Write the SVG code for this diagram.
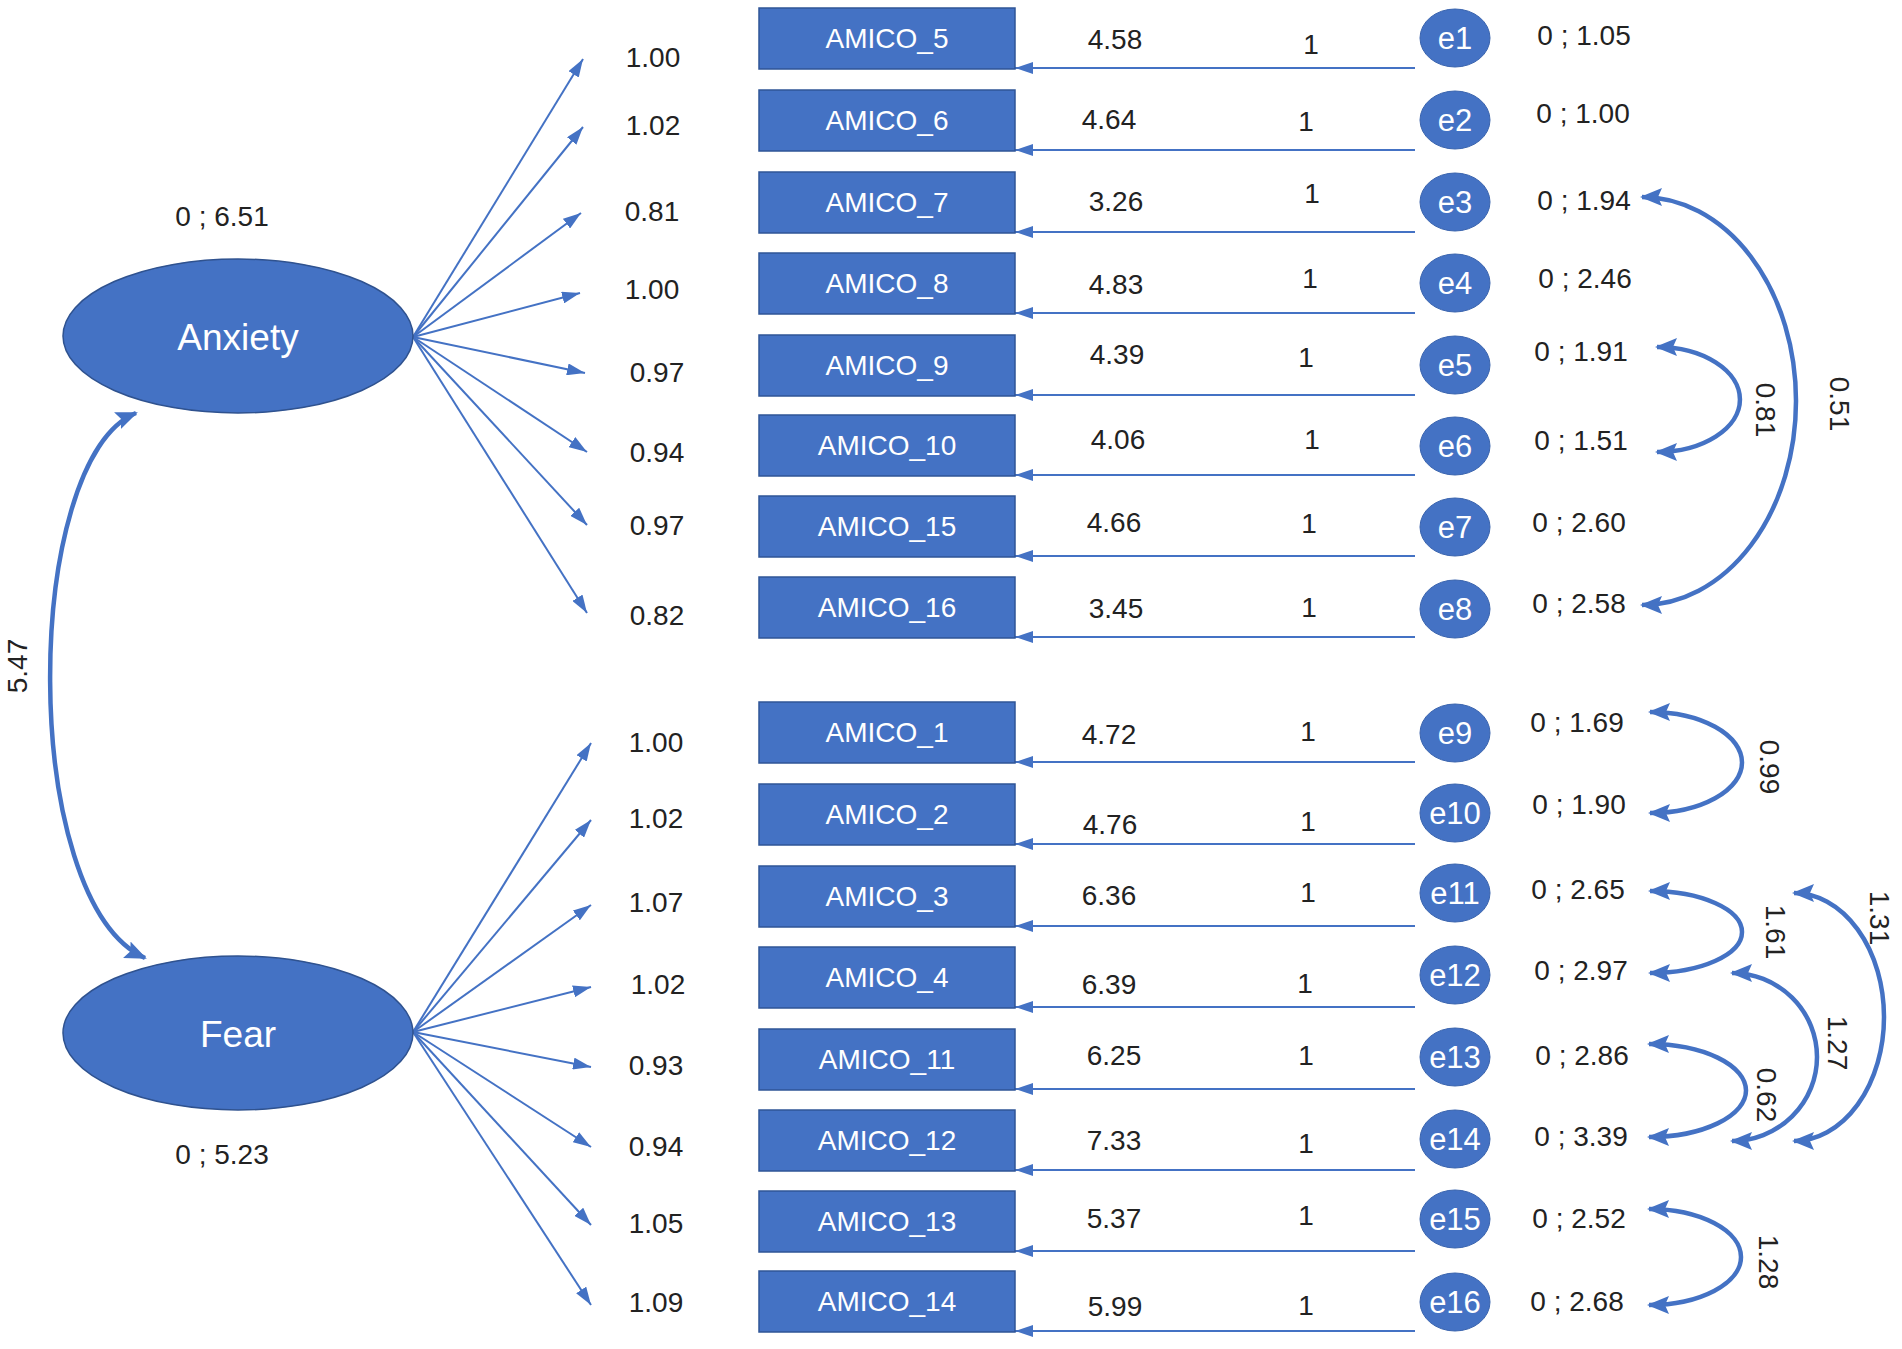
<svg xmlns="http://www.w3.org/2000/svg" width="1902" height="1349" viewBox="0 0 1902 1349">
<style>
text{font-family:"Liberation Sans",Arial,sans-serif;font-size:28px;fill:#222;text-anchor:middle}
.lat{fill:#4472C4;stroke:#2F528F;stroke-width:1.5}
.box{fill:#4472C4;stroke:#2F5597;stroke-width:1.5}
.err{fill:#4472C4;stroke:#3A64AE;stroke-width:1}
.wt{fill:#fff}
.big{font-size:37px}
.et{font-size:31px}
.thin{fill:none;stroke:#4472C4;stroke-width:2;marker-end:url(#ah)}
.cov{fill:none;stroke:#4472C4;stroke-width:4.5;marker-start:url(#ahb);marker-end:url(#ahb)}
</style>
<defs>
<marker id="ah" markerUnits="userSpaceOnUse" markerWidth="18" markerHeight="12" refX="18" refY="6" orient="auto"><path d="M0,0 L18,6 L0,12 z" fill="#4472C4"/></marker>
<marker id="ahb" markerUnits="userSpaceOnUse" markerWidth="22" markerHeight="18" refX="20" refY="9" orient="auto-start-reverse"><path d="M0,0 L22,9 L0,18 L4,9 z" fill="#4472C4"/></marker>
</defs>

<g id="connectors">
<path class="thin" d="M413,337 L583,59"/>
<path class="thin" d="M413,337 L583,127"/>
<path class="thin" d="M413,337 L581,213"/>
<path class="thin" d="M413,337 L580,293"/>
<path class="thin" d="M413,337 L585,373"/>
<path class="thin" d="M413,337 L587,452"/>
<path class="thin" d="M413,337 L587,525"/>
<path class="thin" d="M413,337 L587,613"/>
<path class="thin" d="M413,1032 L591,743"/>
<path class="thin" d="M413,1032 L591,820"/>
<path class="thin" d="M413,1032 L591,905"/>
<path class="thin" d="M413,1032 L591,987"/>
<path class="thin" d="M413,1032 L591,1067"/>
<path class="thin" d="M413,1032 L591,1147"/>
<path class="thin" d="M413,1032 L591,1225"/>
<path class="thin" d="M413,1032 L591,1305"/>
<path class="thin" d="M1415,68 L1015,68"/>
<path class="thin" d="M1415,150 L1015,150"/>
<path class="thin" d="M1415,232 L1015,232"/>
<path class="thin" d="M1415,313 L1015,313"/>
<path class="thin" d="M1415,395 L1015,395"/>
<path class="thin" d="M1415,475 L1015,475"/>
<path class="thin" d="M1415,556 L1015,556"/>
<path class="thin" d="M1415,637 L1015,637"/>
<path class="thin" d="M1415,762 L1015,762"/>
<path class="thin" d="M1415,844 L1015,844"/>
<path class="thin" d="M1415,926 L1015,926"/>
<path class="thin" d="M1415,1007 L1015,1007"/>
<path class="thin" d="M1415,1089 L1015,1089"/>
<path class="thin" d="M1415,1170 L1015,1170"/>
<path class="thin" d="M1415,1251 L1015,1251"/>
<path class="thin" d="M1415,1331 L1015,1331"/>
<path class="cov" d="M136,413 C22,460 18,900 145,958"/>
<path class="cov" d="M1642,197 A154,204 0 0 1 1642,605"/>
<path class="cov" d="M1657,347 A83,52.5 0 0 1 1657,452"/>
<path class="cov" d="M1650,712 A92,50.5 0 0 1 1650,813"/>
<path class="cov" d="M1650,891 A92,41 0 0 1 1650,973"/>
<path class="cov" d="M1794,893 A90,124 0 0 1 1794,1141"/>
<path class="cov" d="M1732,973 A85,84 0 0 1 1732,1141"/>
<path class="cov" d="M1649,1044 A97,46.5 0 0 1 1649,1137"/>
<path class="cov" d="M1649,1209 A92,48 0 0 1 1649,1305"/>
</g>

<g id="labels">
<text x="17" y="666" dy="0.35em" transform="rotate(-90 17 666)">5.47</text>
<text x="1840" y="404" dy="0.35em" transform="rotate(90 1840 404)">0.51</text>
<text x="1766" y="410" dy="0.35em" transform="rotate(90 1766 410)">0.81</text>
<text x="1770" y="767" dy="0.35em" transform="rotate(90 1770 767)">0.99</text>
<text x="1776" y="932" dy="0.35em" transform="rotate(90 1776 932)">1.61</text>
<text x="1880" y="918" dy="0.35em" transform="rotate(90 1880 918)">1.31</text>
<text x="1838" y="1043" dy="0.35em" transform="rotate(90 1838 1043)">1.27</text>
<text x="1767" y="1095" dy="0.35em" transform="rotate(90 1767 1095)">0.62</text>
<text x="1769" y="1262" dy="0.35em" transform="rotate(90 1769 1262)">1.28</text>
<text x="653" y="67">1.00</text>
<text x="653" y="135">1.02</text>
<text x="652" y="221">0.81</text>
<text x="652" y="299">1.00</text>
<text x="657" y="382">0.97</text>
<text x="657" y="462">0.94</text>
<text x="657" y="535">0.97</text>
<text x="657" y="625">0.82</text>
<text x="656" y="752">1.00</text>
<text x="656" y="828">1.02</text>
<text x="656" y="912">1.07</text>
<text x="658" y="994">1.02</text>
<text x="656" y="1075">0.93</text>
<text x="656" y="1156">0.94</text>
<text x="656" y="1233">1.05</text>
<text x="656" y="1312">1.09</text>
<text x="1115" y="49">4.58</text>
<text x="1109" y="129">4.64</text>
<text x="1116" y="211">3.26</text>
<text x="1116" y="294">4.83</text>
<text x="1117" y="364">4.39</text>
<text x="1118" y="449">4.06</text>
<text x="1114" y="532">4.66</text>
<text x="1116" y="618">3.45</text>
<text x="1109" y="744">4.72</text>
<text x="1110" y="834">4.76</text>
<text x="1109" y="905">6.36</text>
<text x="1109" y="994">6.39</text>
<text x="1114" y="1065">6.25</text>
<text x="1114" y="1150">7.33</text>
<text x="1114" y="1228">5.37</text>
<text x="1115" y="1316">5.99</text>
<text x="1311" y="54">1</text>
<text x="1306" y="131">1</text>
<text x="1312" y="203">1</text>
<text x="1310" y="288">1</text>
<text x="1306" y="367">1</text>
<text x="1312" y="449">1</text>
<text x="1309" y="533">1</text>
<text x="1309" y="617">1</text>
<text x="1308" y="741">1</text>
<text x="1308" y="831">1</text>
<text x="1308" y="902">1</text>
<text x="1305" y="993">1</text>
<text x="1306" y="1065">1</text>
<text x="1306" y="1153">1</text>
<text x="1306" y="1225">1</text>
<text x="1306" y="1315">1</text>
<text x="222" y="226">0 ; 6.51</text>
<text x="222" y="1164">0 ; 5.23</text>
<text x="1584" y="45">0 ; 1.05</text>
<text x="1583" y="123">0 ; 1.00</text>
<text x="1584" y="210">0 ; 1.94</text>
<text x="1585" y="288">0 ; 2.46</text>
<text x="1581" y="361">0 ; 1.91</text>
<text x="1581" y="450">0 ; 1.51</text>
<text x="1579" y="532">0 ; 2.60</text>
<text x="1579" y="613">0 ; 2.58</text>
<text x="1577" y="732">0 ; 1.69</text>
<text x="1579" y="814">0 ; 1.90</text>
<text x="1578" y="899">0 ; 2.65</text>
<text x="1581" y="980">0 ; 2.97</text>
<text x="1582" y="1065">0 ; 2.86</text>
<text x="1581" y="1146">0 ; 3.39</text>
<text x="1579" y="1228">0 ; 2.52</text>
<text x="1577" y="1311">0 ; 2.68</text>
</g>

<g id="Anxiety"><ellipse class="lat" cx="238" cy="336" rx="175" ry="77"/><text class="wt big" x="238" y="350">Anxiety</text></g>
<g id="Fear"><ellipse class="lat" cx="238" cy="1033" rx="175" ry="77"/><text class="wt big" x="238" y="1047">Fear</text></g>

<g id="AMICO_5"><rect class="box" x="759" y="8" width="256" height="61"/><text class="wt" x="887" y="48">AMICO_5</text></g>
<g id="AMICO_6"><rect class="box" x="759" y="90" width="256" height="61"/><text class="wt" x="887" y="130">AMICO_6</text></g>
<g id="AMICO_7"><rect class="box" x="759" y="172" width="256" height="61"/><text class="wt" x="887" y="212">AMICO_7</text></g>
<g id="AMICO_8"><rect class="box" x="759" y="253" width="256" height="61"/><text class="wt" x="887" y="293">AMICO_8</text></g>
<g id="AMICO_9"><rect class="box" x="759" y="335" width="256" height="61"/><text class="wt" x="887" y="375">AMICO_9</text></g>
<g id="AMICO_10"><rect class="box" x="759" y="415" width="256" height="61"/><text class="wt" x="887" y="455">AMICO_10</text></g>
<g id="AMICO_15"><rect class="box" x="759" y="496" width="256" height="61"/><text class="wt" x="887" y="536">AMICO_15</text></g>
<g id="AMICO_16"><rect class="box" x="759" y="577" width="256" height="61"/><text class="wt" x="887" y="617">AMICO_16</text></g>
<g id="AMICO_1"><rect class="box" x="759" y="702" width="256" height="61"/><text class="wt" x="887" y="742">AMICO_1</text></g>
<g id="AMICO_2"><rect class="box" x="759" y="784" width="256" height="61"/><text class="wt" x="887" y="824">AMICO_2</text></g>
<g id="AMICO_3"><rect class="box" x="759" y="866" width="256" height="61"/><text class="wt" x="887" y="906">AMICO_3</text></g>
<g id="AMICO_4"><rect class="box" x="759" y="947" width="256" height="61"/><text class="wt" x="887" y="987">AMICO_4</text></g>
<g id="AMICO_11"><rect class="box" x="759" y="1029" width="256" height="61"/><text class="wt" x="887" y="1069">AMICO_11</text></g>
<g id="AMICO_12"><rect class="box" x="759" y="1110" width="256" height="61"/><text class="wt" x="887" y="1150">AMICO_12</text></g>
<g id="AMICO_13"><rect class="box" x="759" y="1191" width="256" height="61"/><text class="wt" x="887" y="1231">AMICO_13</text></g>
<g id="AMICO_14"><rect class="box" x="759" y="1271" width="256" height="61"/><text class="wt" x="887" y="1311">AMICO_14</text></g>

<g id="e1"><ellipse class="err" cx="1455" cy="38" rx="35" ry="29"/><text class="wt et" x="1455" y="49">e1</text></g>
<g id="e2"><ellipse class="err" cx="1455" cy="120" rx="35" ry="29"/><text class="wt et" x="1455" y="131">e2</text></g>
<g id="e3"><ellipse class="err" cx="1455" cy="202" rx="35" ry="29"/><text class="wt et" x="1455" y="213">e3</text></g>
<g id="e4"><ellipse class="err" cx="1455" cy="283" rx="35" ry="29"/><text class="wt et" x="1455" y="294">e4</text></g>
<g id="e5"><ellipse class="err" cx="1455" cy="365" rx="35" ry="29"/><text class="wt et" x="1455" y="376">e5</text></g>
<g id="e6"><ellipse class="err" cx="1455" cy="446" rx="35" ry="29"/><text class="wt et" x="1455" y="457">e6</text></g>
<g id="e7"><ellipse class="err" cx="1455" cy="527" rx="35" ry="29"/><text class="wt et" x="1455" y="538">e7</text></g>
<g id="e8"><ellipse class="err" cx="1455" cy="609" rx="35" ry="29"/><text class="wt et" x="1455" y="620">e8</text></g>
<g id="e9"><ellipse class="err" cx="1455" cy="733" rx="35" ry="29"/><text class="wt et" x="1455" y="744">e9</text></g>
<g id="e10"><ellipse class="err" cx="1455" cy="813" rx="35" ry="29"/><text class="wt et" x="1455" y="824">e10</text></g>
<g id="e11"><ellipse class="err" cx="1455" cy="893" rx="35" ry="29"/><text class="wt et" x="1455" y="904">e11</text></g>
<g id="e12"><ellipse class="err" cx="1455" cy="975" rx="35" ry="29"/><text class="wt et" x="1455" y="986">e12</text></g>
<g id="e13"><ellipse class="err" cx="1455" cy="1057" rx="35" ry="29"/><text class="wt et" x="1455" y="1068">e13</text></g>
<g id="e14"><ellipse class="err" cx="1455" cy="1139" rx="35" ry="29"/><text class="wt et" x="1455" y="1150">e14</text></g>
<g id="e15"><ellipse class="err" cx="1455" cy="1219" rx="35" ry="29"/><text class="wt et" x="1455" y="1230">e15</text></g>
<g id="e16"><ellipse class="err" cx="1455" cy="1302" rx="35" ry="29"/><text class="wt et" x="1455" y="1313">e16</text></g>
</svg>
